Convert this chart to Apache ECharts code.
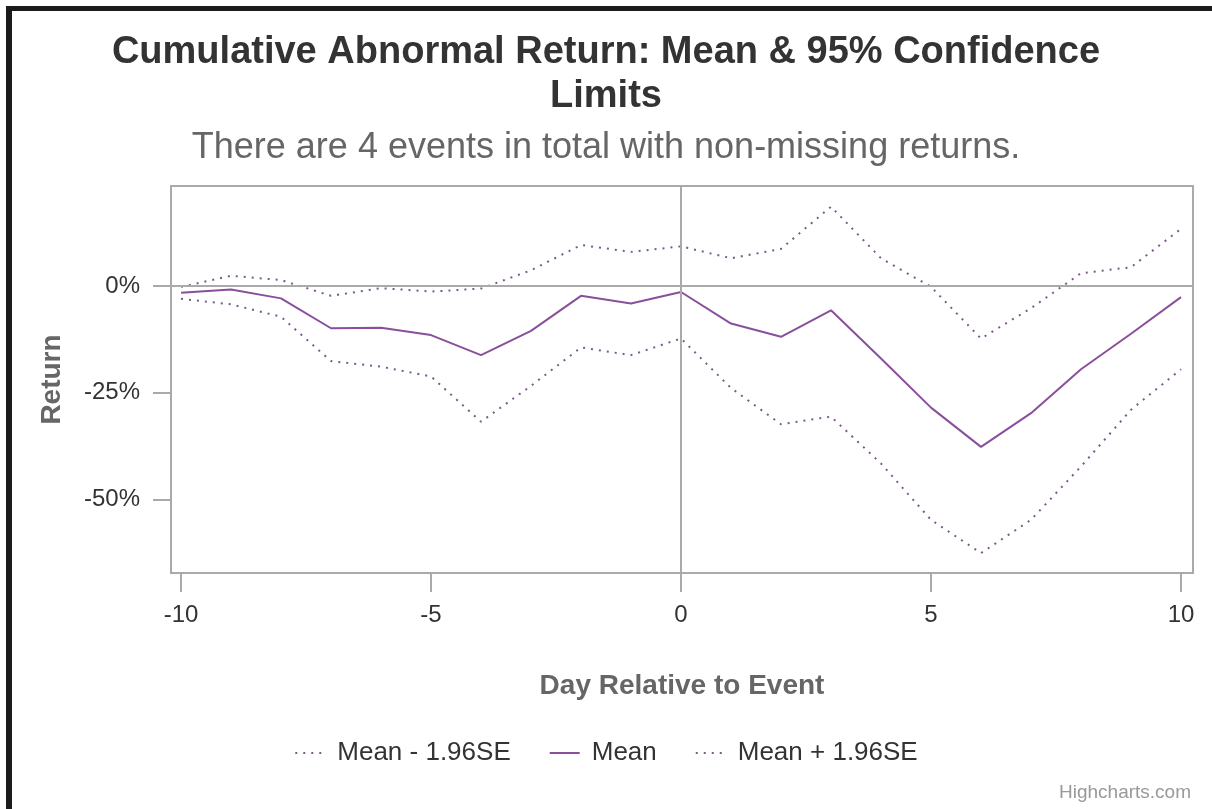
<!DOCTYPE html>
<html>
<head>
<meta charset="utf-8">
<script src="https://cdn.jsdelivr.net/npm/echarts@6/dist/echarts.min.js"></script>
<style>
html,body{margin:0;padding:0;background:#fff;}
#chart{width:1212px;height:809px;}
</style>
</head>
<body>
<div id="chart"></div>
<script>
// Data (percent)
const days = [-10,-9,-8,-7,-6,-5,-4,-3,-2,-1,0,1,2,3,4,5,6,7,8,9,10];
const meanVals  = [-1.6,-0.8,-2.9,-9.9,-9.8,-11.5,-16.2,-10.5,-2.3,-4.1,-1.4,-8.8,-11.9,-5.7,-17.0,-28.5,-37.7,-29.8,-19.5,-11.2,-2.6];
const lowerVals = [-3.0,-4.3,-7.2,-17.6,-18.9,-21.2,-31.8,-23.4,-14.4,-16.2,-12.3,-23.9,-32.4,-30.6,-41.6,-54.8,-62.6,-54.8,-42.3,-29.0,-19.5];
const upperVals = [-0.2,2.4,1.4,-2.3,-0.5,-1.3,-0.6,3.7,9.6,8.0,9.3,6.5,8.7,18.6,6.5,-0.2,-12.3,-5.2,3.0,4.4,13.4];
const xTicks = [-10,-5,0,5,10];
const yTicks = [0,-25,-50];

const pairs = vals => days.map((d,i)=>[d, vals[i]]);
const FONT = '"Liberation Sans", Arial, Helvetica, sans-serif';
const lineColor = '#8a4f9b';
const dotColor = '#7b5a8a';
const gridColor = '#aaaaaa';

const chart = echarts.init(document.getElementById('chart'));
chart.setOption({
  animation: false,
  backgroundColor: '#ffffff',
  textStyle: { fontFamily: FONT },
  title: [
    { text: 'Cumulative Abnormal Return: Mean & 95% Confidence', left: 'center', top: 27,
      textStyle: { fontFamily: FONT, fontSize: 38, fontWeight: 'bold', color: '#333333', lineHeight: 42 } },
    { text: 'Limits', left: 'center', top: 71,
      textStyle: { fontFamily: FONT, fontSize: 38, fontWeight: 'bold', color: '#333333', lineHeight: 42 } },
    { text: 'There are 4 events in total with non-missing returns.', left: 'center', top: 125,
      textStyle: { fontFamily: FONT, fontSize: 36, fontWeight: 'normal', color: '#666666', lineHeight: 36 } }
  ],
  grid: { left: 171, right: 19, top: 186, bottom: 236, show: true, borderColor: gridColor, borderWidth: 2, containLabel: false },
  legend: {
    bottom: 38, left: 'center', itemWidth: 30, itemHeight: 14, itemGap: 38,
    itemStyle: { opacity: 0 },
    textStyle: { fontFamily: FONT, fontSize: 26, color: '#333333', padding: [0,0,0,7] },
    data: ['Mean - 1.96SE', 'Mean', 'Mean + 1.96SE']
  },
  xAxis: {
    type: 'value', min: -10.2, max: 10.24,
    name: 'Day Relative to Event', nameLocation: 'middle', nameGap: 99,
    nameTextStyle: { fontFamily: FONT, fontSize: 28, fontWeight: 'bold', color: '#666666' },
    axisLine: { show: false, onZero: false },
    axisTick: { show: true, customValues: xTicks, length: 19, lineStyle: { color: gridColor, width: 2 } },
    axisLabel: { show: true, customValues: xTicks, fontFamily: FONT, fontSize: 24, color: '#333333', margin: 30 },
    splitLine: { show: false }
  },
  yAxis: {
    type: 'value', min: -67.26, max: 23.44,
    name: 'Return', nameLocation: 'middle', nameGap: 105, nameRotate: 90,
    nameTextStyle: { fontFamily: FONT, fontSize: 28, fontWeight: 'bold', color: '#666666' },
    axisLine: { show: false, onZero: false },
    axisTick: { show: true, customValues: yTicks, length: 18, lineStyle: { color: gridColor, width: 2 } },
    axisLabel: { show: true, customValues: yTicks, formatter: '{value}%', fontFamily: FONT, fontSize: 24, color: '#333333', margin: 31 },
    splitLine: { show: false }
  },
  series: [
    { name: 'Mean - 1.96SE', type: 'line', data: pairs(lowerVals), symbol: 'none', z: 3,
      lineStyle: { color: dotColor, width: 2, type: [2,6] }, itemStyle: { color: dotColor } },
    { name: 'Mean', type: 'line', data: pairs(meanVals), symbol: 'none', z: 4,
      lineStyle: { color: lineColor, width: 2 }, itemStyle: { color: lineColor },
      markLine: { silent: true, symbol: 'none', label: { show: false }, animation: false,
        lineStyle: { color: gridColor, width: 2, type: 'solid' },
        data: [ { xAxis: 0 }, { yAxis: 0 } ] } },
    { name: 'Mean + 1.96SE', type: 'line', data: pairs(upperVals), symbol: 'none', z: 3,
      lineStyle: { color: dotColor, width: 2, type: [2,6] }, itemStyle: { color: dotColor } }
  ],
  graphic: [
    { type: 'rect', left: 6, top: 6, shape: { width: 1206, height: 5 }, style: { fill: '#1b1b1b' }, silent: true },
    { type: 'rect', left: 6, top: 6, shape: { width: 6, height: 803 }, style: { fill: '#1b1b1b' }, silent: true },
    { type: 'text', right: 21, top: 783, style: { text: 'Highcharts.com', fontFamily: FONT, fontSize: 19, fill: '#999999' }, silent: true }
  ]
});
</script>
</body>
</html>
